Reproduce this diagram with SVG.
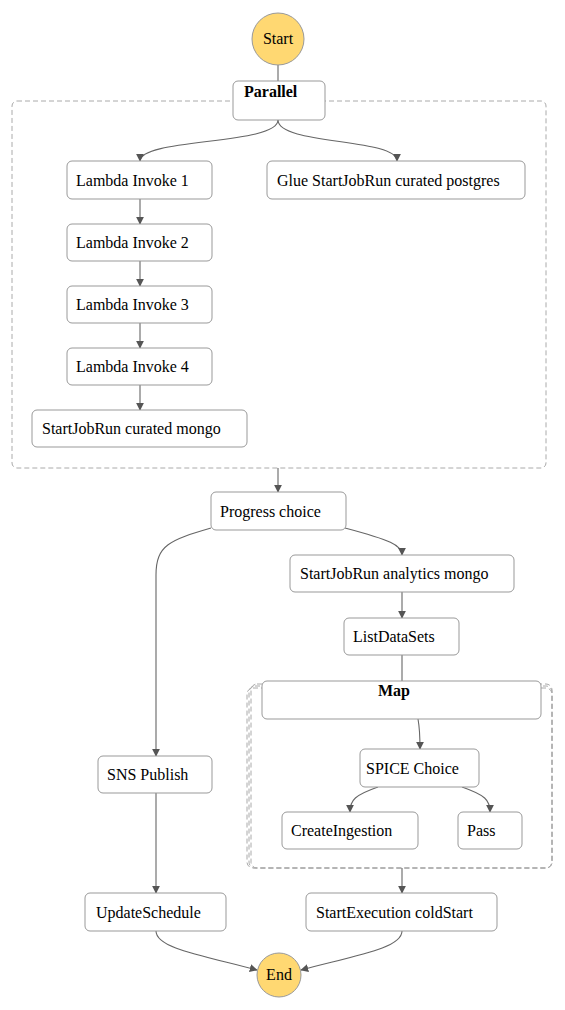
<svg xmlns="http://www.w3.org/2000/svg" width="565" height="1010" viewBox="0 0 565 1010">
<style>
.n{fill:#fff;stroke:#999;stroke-width:1}
.c{fill:none;stroke:#aaa;stroke-width:1;stroke-dasharray:5,3}
text{font-family:"Liberation Serif",Tinos,"Times New Roman","Nimbus Roman","DejaVu Serif",serif;font-size:16px;fill:#000}
.b{font-weight:bold}
.e{fill:none;stroke:#666;stroke-width:1.1}
.ea{fill:none;stroke:#666;stroke-width:1.1;marker-end:url(#ar)}
.se{fill:#ffd872;stroke:#999;stroke-width:1}
</style>
<defs>
<marker id="ar" viewBox="0 0 10 10" refX="9" refY="5" markerWidth="8" markerHeight="8" markerUnits="userSpaceOnUse" orient="auto">
<path d="M0,0 L10,5 L0,10 z" fill="#555"/>
</marker>
</defs>
<g id="containers">
<rect class="c" x="12" y="101" width="534" height="367" rx="5"/>
<rect class="c" x="251" y="684" width="301" height="184" rx="6"/>
<rect class="c" x="249" y="686" width="303" height="182" rx="6"/>
<rect class="c" x="247" y="688" width="305" height="180" rx="6"/>
</g>
<g id="connectors">
<line class="e" x1="278" y1="65" x2="278" y2="81"/>
<path class="ea" d="M278,120 C278,145 140,138 140,161"/>
<path class="ea" d="M278,120 C278,145 397,138 397,161"/>
<line class="ea" x1="140" y1="199" x2="140" y2="224"/>
<line class="ea" x1="140" y1="261" x2="140" y2="286"/>
<line class="ea" x1="140" y1="323" x2="140" y2="348"/>
<line class="ea" x1="140" y1="385" x2="140" y2="410"/>
<line class="ea" x1="278" y1="468" x2="278" y2="492"/>
<path class="ea" d="M211,528 C170,540 156,545 156,575 L156,756"/>
<path class="ea" d="M345,528 C390,540 402,545 402,555"/>
<line class="ea" x1="402" y1="592" x2="402" y2="618"/>
<line class="e" x1="402" y1="655" x2="402" y2="681"/>
<path class="ea" d="M418,719 C420,730 420,740 420,749"/>
<path class="ea" d="M378,787 C355,795 350,800 350,812"/>
<path class="ea" d="M462,787 C485,795 490,800 490,812"/>
<line class="ea" x1="402" y1="868" x2="402" y2="893"/>
<line class="ea" x1="156" y1="793" x2="156" y2="893"/>
<path class="ea" d="M156,931 C156,948 200,955 257,970"/>
<path class="ea" d="M402,931 C402,948 358,955 301,970"/>
</g>
<g id="start"><circle class="se" cx="278" cy="39" r="26"/><text x="278" y="44" text-anchor="middle">Start</text></g>
<g id="parallel"><rect class="n" x="233" y="81" width="92" height="39" rx="5"/><text class="b" x="244" y="97">Parallel</text></g>
<g id="lambda1"><rect class="n" x="67" y="161" width="145" height="38" rx="5"/><text x="76" y="186">Lambda Invoke 1</text></g>
<g id="glue"><rect class="n" x="267" y="161" width="258" height="38" rx="5"/><text x="277" y="186">Glue StartJobRun curated postgres</text></g>
<g id="lambda2"><rect class="n" x="67" y="224" width="145" height="37" rx="5"/><text x="76" y="248">Lambda Invoke 2</text></g>
<g id="lambda3"><rect class="n" x="67" y="286" width="145" height="37" rx="5"/><text x="76" y="310">Lambda Invoke 3</text></g>
<g id="lambda4"><rect class="n" x="67" y="348" width="145" height="37" rx="5"/><text x="76" y="372">Lambda Invoke 4</text></g>
<g id="curatedmongo"><rect class="n" x="32" y="410" width="215" height="37" rx="5"/><text x="42" y="434">StartJobRun curated mongo</text></g>
<g id="progress"><rect class="n" x="211" y="492" width="135" height="38" rx="5"/><text x="220" y="517">Progress choice</text></g>
<g id="analytics"><rect class="n" x="290" y="555" width="224" height="37" rx="5"/><text x="300" y="579">StartJobRun analytics mongo</text></g>
<g id="listdatasets"><rect class="n" x="344" y="618" width="115" height="37" rx="5"/><text x="353" y="642">ListDataSets</text></g>
<g id="map"><rect class="n" x="262" y="681" width="279" height="38" rx="5"/><text class="b" x="394" y="696" text-anchor="middle">Map</text></g>
<g id="spice"><rect class="n" x="360" y="749" width="119" height="38" rx="5"/><text x="366" y="774">SPICE Choice</text></g>
<g id="createingestion"><rect class="n" x="282" y="812" width="136" height="37" rx="5"/><text x="291" y="836">CreateIngestion</text></g>
<g id="pass"><rect class="n" x="458" y="812" width="64" height="37" rx="5"/><text x="467" y="836">Pass</text></g>
<g id="sns"><rect class="n" x="98" y="756" width="114" height="37" rx="5"/><text x="107" y="780">SNS Publish</text></g>
<g id="updateschedule"><rect class="n" x="85" y="893" width="141" height="38" rx="5"/><text x="96" y="918">UpdateSchedule</text></g>
<g id="coldstart"><rect class="n" x="306" y="893" width="191" height="38" rx="5"/><text x="316" y="918">StartExecution coldStart</text></g>
<g id="end"><circle class="se" cx="279" cy="975" r="22"/><text x="279" y="980" text-anchor="middle">End</text></g>
</svg>
